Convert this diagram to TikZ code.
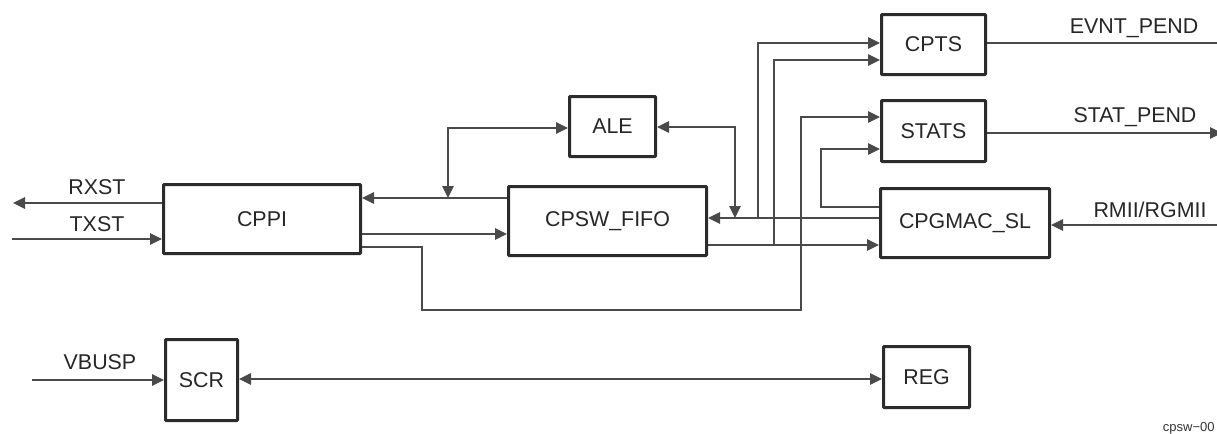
\documentclass[tikz,border=0pt]{standalone}
\usepackage{fontspec}
\setmainfont{Liberation Sans}
\usetikzlibrary{arrows.meta}
\definecolor{boxline}{HTML}{2B2B2B}
\definecolor{wire}{HTML}{4A4A4A}

\begin{document}
\begin{tikzpicture}[x=0.5pt,y=-0.5pt,
  blk/.style={draw=boxline,line width=1.5pt,rounded corners=0.4pt,
    font=\fontsize{10.7}{12}\selectfont,text=black!85,inner sep=0pt},
  wr/.style={draw=wire,line width=0.55pt},
  tip/.style={wr,-{Triangle[length=6pt,width=5.8pt]}},
  tips/.style={wr,{Triangle[length=6pt,width=5.8pt]}-{Triangle[length=6pt,width=5.8pt]}},
  lbl/.style={font=\fontsize{10.7}{12}\selectfont,text=black!85,inner sep=0pt}]
  \useasboundingbox (0,0) rectangle (1217,434);

  % blocks
  \foreach \n/\x/\y/\w/\h/\t in {cppi/262/219/98.5/34.5/CPPI,
      fifo/607.5/221/99/34.5/CPSW\_FIFO, ale/612.5/126.5/43/30/ALE,
      cpts/933.5/44.5/52/30/CPTS, stats/933.5/131/52/30.5/STATS,
      gmac/965/223/84.5/34.5/CPGMAC\_SL, scr/201.5/380/36/40.5/SCR,
      reg/926.5/377/43/30.5/REG}
    \node[blk,minimum width=\w pt,minimum height=\h pt] (\n) at (\x,\y) {\t};

  % free ends
  \coordinate (rxst) at (13,203);
  \coordinate (txst) at (12,239);
  \coordinate (vbusp) at (32,380);
  \coordinate (evnt) at (1229,43);
  \coordinate (stat) at (1222,133);
  \coordinate (rmii) at (1229,225);

  % labels
  \node[lbl] (rxstl) at (97,187) {RXST};
  \node[lbl] (txstl) at (97,224) {TXST};
  \node[lbl] (vbuspl) at (100,362) {VBUSP};
  \node[lbl] (evntl) at (1134,28) {EVNT\_PEND};
  \node[lbl] (statl) at (1135,117) {STAT\_PEND};
  \node[lbl] (rmiil) at (1150,210) {RMII/RGMII};
  \node[font=\fontsize{6.5}{7}\selectfont,text=black!80,anchor=east,inner sep=0pt]
    (fig) at (1215,428) {cpsw−00};

  % CPPI side
  \draw[tip] (cppi.west |- 0,203) -- (rxst);
  \draw[tip] (txst) -- (cppi.west |- 0,239);
  \draw[tip] (fifo.west |- 0,198) -- (cppi.east |- 0,198);
  \draw[tip] (cppi.east |- 0,234) -- (fifo.west |- 0,234);
  \draw[tip] (cppi.east |- 0,247) -- (422,247) -- (422,310) -- (801,310)
    -- (801,117) -- (stats.west |- 0,117);

  % ALE
  \draw[tips] (448,198) -- (448,128) -- (ale.west |- 0,128);
  \draw[tips] (ale.east |- 0,127) -- (735,127) -- (735,218);

  % CPGMAC_SL and FIFO
  \draw[tip] (gmac.west |- 0,218) -- (fifo.east |- 0,218);
  \draw[tip] (fifo.east |- 0,245) -- (gmac.west |- 0,245);
  \draw[tip] (758,218) -- (758,43) -- (cpts.west |- 0,43);
  \draw[tip] (774,245) -- (774,60) -- (cpts.west |- 0,60);
  \draw[tip] (gmac.west |- 0,207) -- (821,207) -- (821,149) -- (stats.west |- 0,149);

  % outputs
  \draw[tip] (cpts.east |- 0,43) -- (evnt);
  \draw[tip] (stats.east |- 0,133) -- (stat);
  \draw[tips] (gmac.east |- 0,225) -- (rmii);

  % SCR and REG
  \draw[tip] (vbusp) -- (scr.west |- 0,380);
  \draw[tips] (scr.east |- 0,379) -- (reg.west |- 0,379);
\end{tikzpicture}
\end{document}
